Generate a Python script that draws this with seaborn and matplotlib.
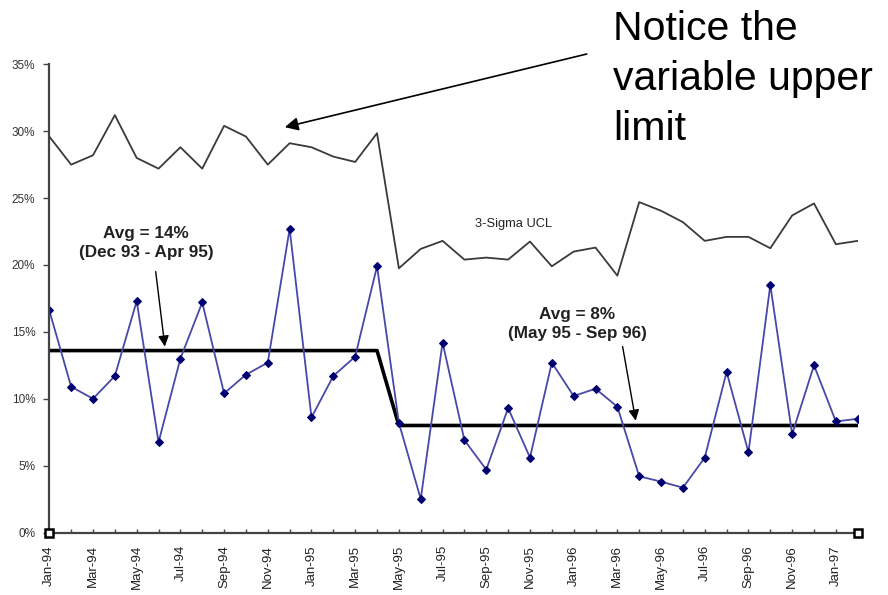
import matplotlib
matplotlib.use("Agg")
import matplotlib.pyplot as plt
import matplotlib.ticker as mticker
import numpy as np
import pandas as pd
import seaborn as sns

# Monthly observations, Jan-94 through Feb-97
months = pd.date_range("1994-01-01", periods=38, freq="MS")

# Observed rate (%)
rate = [16.6, 10.9, 10.0, 11.7, 17.3, 6.75, 13.0, 17.2, 10.4, 11.8,
        12.7, 22.7, 8.6, 11.7, 13.15, 19.9, 8.2, 2.5, 14.2, 6.9,
        4.7, 9.3, 5.6, 12.7, 10.2, 10.75, 9.4, 4.2, 3.8, 3.35,
        5.6, 12.0, 6.0, 18.5, 7.35, 12.5, 8.3, 8.5]

# 3-sigma upper control limit (%)
ucl = [29.6, 27.5, 28.2, 31.2, 28.0, 27.2, 28.8, 27.2, 30.4, 29.6,
       27.5, 29.1, 28.8, 28.1, 27.7, 29.85, 19.75, 21.2, 21.8, 20.4,
       20.55, 20.4, 21.75, 19.9, 21.0, 21.3, 19.2, 24.7, 24.05, 23.2,
       21.8, 22.1, 22.1, 21.25, 23.7, 24.6, 21.55, 21.8]

# Period averages (%)
avg_line = [13.6, 13.6, 13.6, 13.6, 13.6, 13.6, 13.6, 13.6, 13.6, 13.6,
            13.6, 13.6, 13.6, 13.6, 13.6, 13.6, 8.0, 8.0, 8.0, 8.0,
            8.0, 8.0, 8.0, 8.0, 8.0, 8.0, 8.0, 8.0, 8.0, 8.0,
            8.0, 8.0, 8.0, 8.0, 8.0, 8.0, 8.0, 8.0]

month_labels = [m.strftime("%b-%y") for m in months]

df = pd.DataFrame({"idx": np.arange(len(months)), "rate": rate,
                   "ucl": ucl, "avg": avg_line})

sns.set_style("white")
plt.rcParams["font.family"] = ["Liberation Sans", "DejaVu Sans"]

fig = plt.figure(figsize=(8.88, 5.95), dpi=100)
ax = fig.add_axes([49.3 / 888, 1 - 532.5 / 595, (857.7 - 49.3) / 888,
                   (532.5 - 64.3) / 595])

sns.lineplot(data=df, x="idx", y="ucl", ax=ax, color="#3a3a3a", lw=1.3)
sns.lineplot(data=df, x="idx", y="avg", ax=ax, color="black", lw=2.6)
sns.lineplot(data=df, x="idx", y="rate", ax=ax, color="#4848a8", lw=1.3,
             marker="D", markersize=4.5, markerfacecolor="#000070",
             markeredgecolor="#000070")

ax.set_xlim(0, len(months) - 1)
ax.set_ylim(0, 35)
ax.set_xlabel("")
ax.set_ylabel("")

# Axes styling
for side in ("top", "right"):
    ax.spines[side].set_visible(False)
for side in ("left", "bottom"):
    ax.spines[side].set_color("#444444")
    ax.spines[side].set_linewidth(1.6)

ax.yaxis.set_major_locator(mticker.MultipleLocator(5))
ax.yaxis.set_major_formatter(mticker.FuncFormatter(lambda v, p: f"{v:.0f}%"))
ax.tick_params(axis="y", direction="out", length=4, width=1, color="#444444",
               labelsize=8.5, labelcolor="#333333", pad=6, left=True)

ax.set_xticks(np.arange(0, len(months), 2))
ax.set_xticklabels(month_labels[::2], rotation=90, va="top", ha="center")
ax.set_xticks(np.arange(len(months)), minor=True)
ax.tick_params(axis="x", which="both", direction="in", length=3, width=1,
               color="#444444", bottom=True)
ax.tick_params(axis="x", which="major", labelsize=9.5, labelcolor="#222222",
               pad=9)

# Handles at both ends of the category axis
ax.plot([0, len(months) - 1], [0, 0], ls="none", marker="s", ms=6,
        mfc="white", mec="black", mew=1.8, clip_on=False, zorder=5)

# Labels and call-outs
ax.text(21.27, 23.07, "3-Sigma UCL", fontsize=9.3, ha="center", va="center",
        color="#222222")

ax.text(4.42, 21.65, "Avg = 14%\n(Dec 93 - Apr 95)", fontsize=12.3,
        fontweight="bold", ha="center", va="center", color="#222222",
        linespacing=1.35)
ax.annotate("", xy=(5.29, 13.9), xytext=(4.87, 19.5),
            arrowprops=dict(arrowstyle="-|>", mutation_scale=16, lw=1,
                            color="black", shrinkA=0, shrinkB=0))

ax.text(24.15, 15.56, "Avg = 8%\n(May 95 - Sep 96)", fontsize=12.3,
        fontweight="bold", ha="center", va="center", color="#222222",
        linespacing=1.35)
ax.annotate("", xy=(26.84, 8.36), xytext=(26.24, 13.9),
            arrowprops=dict(arrowstyle="-|>", mutation_scale=16, lw=1,
                            color="black", shrinkA=0, shrinkB=0))

ax.annotate("", xy=(10.78, 30.3), xytext=(24.6, 35.77),
            annotation_clip=False,
            arrowprops=dict(arrowstyle="-|>", mutation_scale=20, lw=1.2,
                            color="black", shrinkA=0, shrinkB=0))

fig.text(613 / 888, 1 - 10 / 595, "Notice the\nvariable upper\nlimit",
         fontsize=29.5, ha="left", va="top", color="black", linespacing=1.4)

fig.savefig("out.png", dpi=100)
